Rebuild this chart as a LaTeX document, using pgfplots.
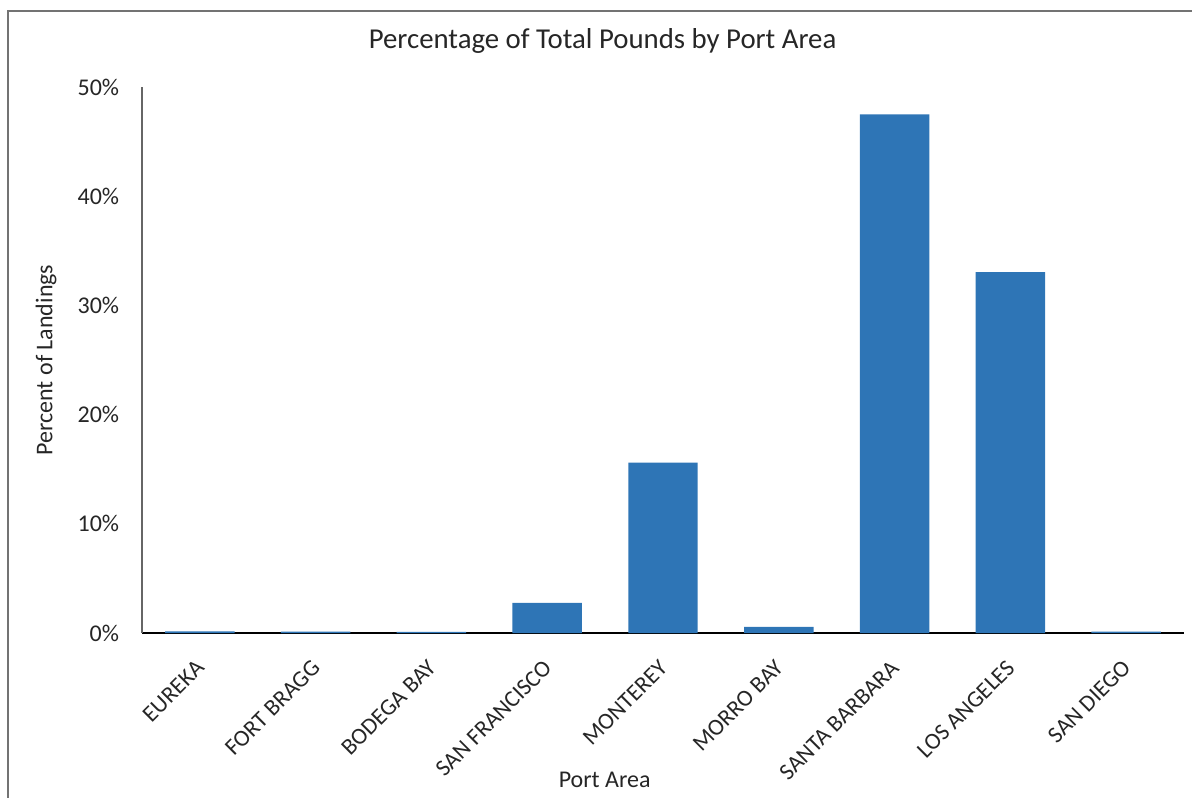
\documentclass[border=0pt]{standalone}
\usepackage{pgfplots}
\pgfplotsset{compat=1.18}
\usepackage{fontspec}
\setmainfont{Carlito}
\definecolor{barblue}{HTML}{2E75B6}
\begin{document}
\begin{tikzpicture}
\useasboundingbox (0,0) rectangle (894pt,597.75pt);
\draw[black!55, line width=1.1pt] (6pt,-20pt) rectangle (920pt,589.5pt);
\begin{axis}[
  at={(106.5pt,123pt)}, anchor=south west,
  scale only axis, width=781.5pt, height=409.5pt,
  xmin=-0.5, xmax=8.5, ymin=0, ymax=50,
  axis x line=bottom, axis y line=left,
  axis line style={-},
  x axis line style={black, line width=1pt},
  y axis line style={black!60, line width=1pt},
  major tick length=0pt,
  xtick={0,...,8},
  xticklabels={EUREKA,FORT BRAGG,BODEGA BAY,SAN FRANCISCO,MONTEREY,MORRO BAY,SANTA BARBARA,LOS ANGELES,SAN DIEGO},
  xticklabel style={rotate=45, anchor=north east, inner sep=0pt, yshift=-10.8pt, xshift=-16.2pt, font=\fontsize{17.5}{20}\selectfont, text=black!85},
  ytick={0,10,20,30,40,50},
  yticklabels={0\%,10\%,20\%,30\%,40\%,50\%},
  yticklabel style={anchor=east, inner sep=0pt, xshift=-17pt, font=\fontsize{18}{21}\selectfont, text=black!85},
  title={Percentage of Total Pounds by Port Area},
  title style={at={(axis description cs:0.442,1.055)}, anchor=base, font=\fontsize{21.6}{25}\selectfont, text=black!85},
  xlabel={Port Area},
  xlabel style={at={(axis description cs:0.444,-0.269)}, anchor=center, font=\fontsize{18}{21}\selectfont, text=black!85},
  ylabel={Percent of Landings},
  ylabel style={at={(axis description cs:-0.092,0.5)}, anchor=center, rotate=0, font=\fontsize{18}{21}\selectfont, text=black!85},
  ybar, bar width=0.6,
]
\addplot[fill=barblue, draw=none] coordinates {
(0,0.15) (1,0.12) (2,0.1) (3,2.75) (4,15.6) (5,0.55) (6,47.5) (7,33.05) (8,0.12)
};
\end{axis}
\end{tikzpicture}
\end{document}
